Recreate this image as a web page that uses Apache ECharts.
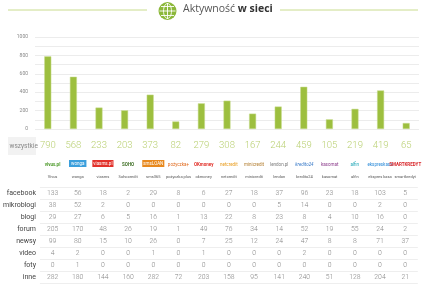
<!DOCTYPE html>
<html><head><meta charset="utf-8">
<script src="https://cdn.jsdelivr.net/npm/echarts@6/dist/echarts.min.js"></script>
<style>html,body{margin:0;padding:0;background:#fff}#c{width:424px;height:285px}</style>
</head><body><div id="c"></div>
<script>
const categories = ['Vivus','wonga','viasms','Sohocredit','sms365','pożyczka plus','okmoney','netcredit','minicredit','lendon','kredito24','kasomat','alfin','ekspres kasa','smartkredyt'];
const logoLabels = ['vivus.pl','wonga','viasms.pl','SOHO','smsLOAN','pożyczka+','OKmoney','netcredit','minicredit','lendon.pl','kredito24','kasomat','alfin','ekspreskasa','SMARTKREDYT'];
const totals = [790,568,233,203,373,82,279,308,167,244,459,105,219,419,65];
const rowNames = ['facebook','mikroblogi','blogi','forum','newsy','video','foty','inne'];
const facebook   = [133,56,18,2,29,8,6,27,18,37,96,23,18,103,5];
const mikroblogi = [38,52,2,0,0,0,0,0,0,5,14,0,0,2,0];
const blogi      = [29,27,6,5,16,1,13,22,8,23,8,4,10,16,0];
const forum      = [205,170,48,26,19,1,49,76,34,14,52,19,55,24,2];
const newsy      = [99,80,15,10,26,0,7,25,12,24,47,8,8,71,37];
const video      = [4,2,0,0,1,0,1,0,0,0,2,0,0,0,0];
const foty       = [0,1,0,0,0,0,0,0,0,0,0,0,0,0,0];
const inne       = [282,180,144,160,282,72,203,158,95,141,240,51,128,204,21];
const yTicks = [0,200,400,600,800,1000];

const rows = [facebook,mikroblogi,blogi,forum,newsy,video,foty,inne];
const cells = [];
rows.forEach((r,j)=>r.forEach((v,i)=>cells.push([i,j,v])));

const logoStyles = [
  {color:'#4d9a2a',fontWeight:'bold'},
  {color:'#fff',backgroundColor:'#3b9fdc',padding:[1,2]},
  {color:'#fff',backgroundColor:'#e2312a',padding:[1,1]},
  {color:'#3f6f25',fontWeight:'bold'},
  {color:'#fff',backgroundColor:'#e8891e',padding:[1,1]},
  {color:'#e06a1e'},
  {color:'#e2312a',fontWeight:'bold'},
  {color:'#e89a18'},
  {color:'#b07a2a'},
  {color:'#7a7a7a'},
  {color:'#3a7bc8',fontStyle:'italic'},
  {color:'#8a3a8a'},
  {color:'#1aa5b5'},
  {color:'#2a8ad8'},
  {color:'#d8262a',fontWeight:'bold'}
];
const rich = {};
logoStyles.forEach((s,i)=>{rich['l'+i]=Object.assign({fontSize:4.5,fontFamily:'Roboto, sans-serif'},s);});

const FONT = 'Roboto, sans-serif';
const chart = echarts.init(document.getElementById('c'));
chart.setOption({
  animation:false,
  grid:[
    {left:35,right:5,top:37,height:92},
    {left:35,right:5,top:187,height:96}
  ],
  xAxis:[
    {gridIndex:0,type:'category',data:categories,
     axisLine:{show:false},axisTick:{show:false},
     axisLabel:{interval:0,margin:12,fontSize:9.5,color:'#b9d072',fontFamily:'Roboto, sans-serif',fontWeight:300,
       formatter:(v,i)=>String(totals[i])}},
    {gridIndex:1,type:'category',data:categories,position:'top',
     axisLine:{show:false},axisTick:{show:false},
     axisLabel:{interval:0,margin:8,fontSize:4,color:'#555',fontFamily:FONT}},
    {gridIndex:1,type:'category',data:categories,position:'top',
     axisLine:{show:false},axisTick:{show:false},
     axisLabel:{interval:0,margin:20,rich:rich,formatter:(v,i)=>'{l'+i+'|'+logoLabels[i]+'}'}}
  ],
  yAxis:[
    {gridIndex:0,type:'value',min:0,max:1000,interval:100,
     axisLine:{show:false},axisTick:{show:false},
     splitLine:{lineStyle:{color:'#ececec',width:1}},
     axisLabel:{margin:7,fontSize:5,color:'#888',fontFamily:'Roboto, sans-serif',
       formatter:v=>yTicks.indexOf(v)>=0?String(v):''}},
    {gridIndex:1,type:'category',data:rowNames,inverse:true,
     axisLine:{show:false},axisTick:{show:false},
     splitLine:{show:true,lineStyle:{color:'#eeeeee'}},
     axisLabel:{margin:4,fontSize:7,color:'#444',fontFamily:FONT}}
  ],
  series:[
    {type:'bar',xAxisIndex:0,yAxisIndex:0,data:totals,barWidth:7,
     itemStyle:{color:'#9dbf3f',borderColor:'#c8dc90',borderWidth:0.5}},
    {type:'scatter',xAxisIndex:1,yAxisIndex:1,data:cells,symbolSize:0,
     label:{show:true,position:'inside',fontSize:6.8,color:'#666',fontFamily:FONT,fontWeight:300,
       formatter:p=>String(p.value[2])}}
  ],
  graphic:[
    {type:'line',shape:{x1:8,y1:10,x2:147,y2:10},style:{stroke:'#c9dc8e',lineWidth:1}},
    {type:'line',shape:{x1:280,y1:10,x2:418,y2:10},style:{stroke:'#c9dc8e',lineWidth:1}},
    {type:'circle',shape:{cx:167.5,cy:11,r:9},style:{fill:'#8cb83a'}},
    {type:'ellipse',shape:{cx:167.5,cy:11,rx:4,ry:7.5},style:{fill:'none',stroke:'#fff',lineWidth:0.9}},
    {type:'line',shape:{x1:167.5,y1:3,x2:167.5,y2:19},style:{stroke:'#fff',lineWidth:0.9}},
    {type:'line',shape:{x1:159.5,y1:11,x2:175.5,y2:11},style:{stroke:'#fff',lineWidth:0.9}},
    {type:'line',shape:{x1:161,y1:6.5,x2:174,y2:6.5},style:{stroke:'#fff',lineWidth:0.9}},
    {type:'line',shape:{x1:161,y1:15.5,x2:174,y2:15.5},style:{stroke:'#fff',lineWidth:0.9}},
    {type:'text',left:183,top:4,style:{text:'Aktywność {b|w sieci}',fontSize:10.5,fill:'#555',fontFamily:'Open Sans, sans-serif',
      rich:{b:{fontSize:10.5,fontWeight:'bold',fill:'#333',fontFamily:'Open Sans, sans-serif'}}}},
    {type:'rect',shape:{x:8,y:137,width:28,height:18},style:{fill:'#f2f2f2'}},
    {type:'text',left:9.5,top:142.5,style:{text:'wszystkie',fontSize:6.5,fill:'#888',fontFamily:FONT}}
  ]
});
</script></body></html>
